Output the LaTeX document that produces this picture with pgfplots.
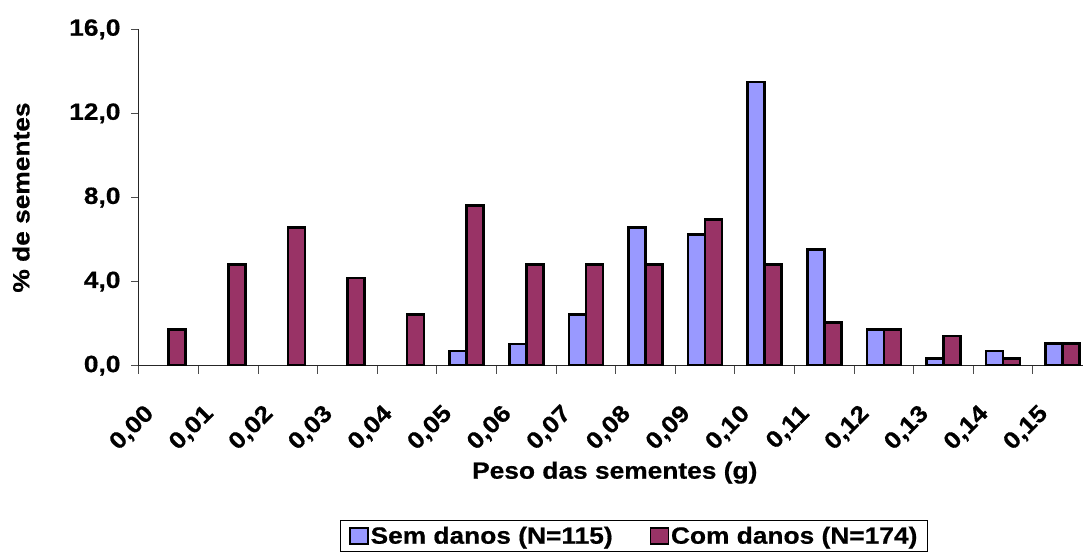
\documentclass[border=0pt]{standalone}
\usepackage{pgfplots}
\pgfplotsset{compat=1.18}
\usepackage{fontspec}
\setmainfont{Liberation Sans}[FakeStretch=1.12, BoldFeatures={FakeBold=0.6}]
\definecolor{semc}{HTML}{9999FF}
\definecolor{comc}{HTML}{993366}
\newcommand{\cf}{\fontsize{23.5}{27}\selectfont\bfseries}
\begin{document}
\begin{tikzpicture}
\useasboundingbox (-139pt,-187.3pt) rectangle (945pt,365.7pt);
\begin{axis}[
  at={(0pt,0pt)}, anchor=south west,
  scale only axis, width=944pt, height=336.4pt,
  xmin=-0.5, xmax=15.34, ymin=0, ymax=16,
  axis x line*=bottom, axis y line*=left,
  axis line style={line width=1pt, black!85},
  ybar=0pt, bar width=17pt,
  tick align=outside, major tick length=8pt,
  tick style={line width=1pt, black!70},
  xtick={-0.5,0.5,...,14.5}, xticklabels={},
  extra x ticks={0,...,15},
  extra x tick labels={{0,00},{0,01},{0,02},{0,03},{0,04},{0,05},{0,06},{0,07},{0,08},{0,09},{0,10},{0,11},{0,12},{0,13},{0,14},{0,15}},
  extra x tick style={major tick length=0pt},
  xticklabel style={font=\cf, xshift=-16pt, yshift=-42pt, rotate=45, anchor=east},
  ytick={0,4,8,12,16},
  yticklabel style={font=\cf, xshift=-7pt, /pgf/number format/.cd, fixed, fixed zerofill, precision=1, use comma},
  /pgf/number format/assume math mode=true,
  ylabel={\% de sementes},
  ylabel style={font=\cf, at={(axis description cs:-0.125,0.5)}, anchor=center},
  xlabel={Peso das sementes (g)},
  xlabel style={font=\cf, at={(axis description cs:0.504,-0.318)}, anchor=center},
  legend style={at={(axis description cs:0.5242,-0.506)}, anchor=center, legend columns=2,
    draw=black, line width=1pt, font=\cf, inner xsep=9pt, inner ysep=5pt,
    nodes={inner sep=1pt},
    /tikz/every odd column/.append style={column sep=1pt},
    /tikz/every even column/.append style={column sep=36pt}},
  legend image code/.code={\draw[#1, line width=1.3pt] (0pt,-8pt) rectangle (18pt,8pt);},
]
\addplot[fill=semc, draw=black, line width=2.6pt] coordinates {
 (5,0.70) (6,1.03) (7,2.44) (8,6.58) (9,6.25) (10,13.5) (11,5.53) (12,1.73) (13,0.33) (14,0.70) (15,1.05)};
\addplot[fill=comc, draw=black, line width=2.6pt] coordinates {
 (0,1.73) (1,4.82) (2,6.58) (3,4.18) (4,2.44) (5,7.63) (6,4.82) (7,4.82) (8,4.82) (9,6.96) (10,4.82) (11,2.06) (12,1.73) (13,1.41) (14,0.33) (15,1.05)};
\legend{Sem danos (N=115), Com danos (N=174)}
\end{axis}
\end{tikzpicture}
\end{document}
